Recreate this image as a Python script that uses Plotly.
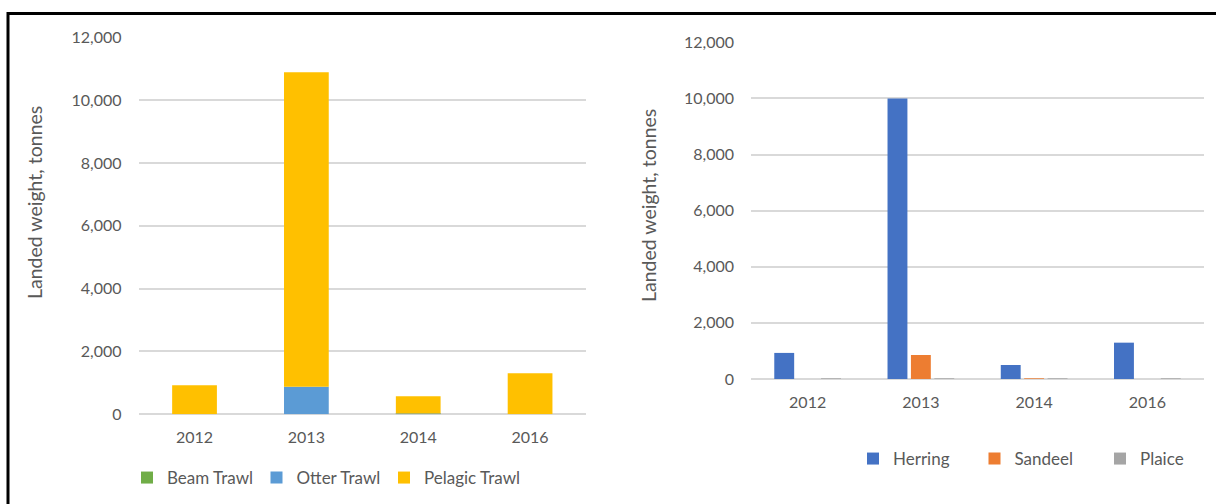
import plotly.graph_objects as go

years = ["2012", "2013", "2014", "2016"]

# Left chart: landed weight by gear (tonnes)
beam_trawl = [0, 0, 10, 0]
otter_trawl = [0, 880, 12, 0]
pelagic_trawl = [923, 10010, 551, 1305]

# Right chart: landed weight by species (tonnes)
herring = [930, 10000, 500, 1295]
sandeel = [0, 855, 15, 0]
plaice = [10, 15, 12, 10]

y_ticks = [0, 2000, 4000, 6000, 8000, 10000, 12000]

W, H = 1216, 504
FONT = "Lato"
TXT = "#595959"
GRID = "#D9D9D9"


def px_x(p):
    return p / W


def px_y(p):
    return 1 - p / H


axis_font = dict(family=FONT, size=16, color=TXT)
legend_font = dict(family=FONT, size=17, color=TXT)
title_font = dict(family=FONT, size=19.5, color=TXT)

fig = go.Figure()

left_series = [("Beam Trawl", beam_trawl, "#70AD47", "legend", 127),
               ("Otter Trawl", otter_trawl, "#5B9BD5", "legend2", 256.5),
               ("Pelagic Trawl", pelagic_trawl, "#FFC000", "legend3", 384)]
right_series = [("Herring", herring, "#4472C4", "legend4", 853),
                ("Sandeel", sandeel, "#ED7D31", "legend5", 974.5),
                ("Plaice", plaice, "#A5A5A5", "legend6", 1100)]

legends = {}
for name, vals, col, leg, lx in left_series:
    fig.add_trace(go.Bar(x=years, y=vals, name=name, marker_color=col,
                         marker_line_width=0, xaxis="x", yaxis="y",
                         width=0.4, legend=leg))
    legends[leg] = dict(orientation="h", x=px_x(lx), xanchor="left",
                        y=px_y(478), yanchor="middle", font=legend_font,
                        itemwidth=30, bgcolor="rgba(0,0,0,0)")

for name, vals, col, leg, lx in right_series:
    fig.add_trace(go.Bar(x=years, y=vals, name=name, marker_color=col,
                         marker_line_width=0, xaxis="x2", yaxis="y2",
                         offsetgroup=name, legend=leg))
    legends[leg] = dict(orientation="h", x=px_x(lx), xanchor="left",
                        y=px_y(459), yanchor="middle", font=legend_font,
                        itemwidth=30, bgcolor="rgba(0,0,0,0)")

fig.update_layout(
    width=W, height=H,
    margin=dict(l=0, r=0, t=0, b=0, autoexpand=False),
    paper_bgcolor="white", plot_bgcolor="white",
    barmode="relative",
    bargap=0.38, bargroupgap=0.15,
    font=dict(family=FONT, color=TXT),
    showlegend=True,
    xaxis=dict(domain=[px_x(138.6), px_x(586)], type="category",
               showgrid=False, showline=False, ticks="",
               tickfont=axis_font, ticklabelstandoff=12, automargin=False),
    yaxis=dict(domain=[px_y(414.3), px_y(37.3)], range=[0, 12000],
               tickvals=y_ticks, tickformat=",", showgrid=True,
               gridcolor=GRID, gridwidth=1.5, zeroline=True,
               zerolinecolor=GRID, zerolinewidth=1.5, showline=False,
               ticks="", tickfont=axis_font, ticklabelstandoff=16,
               automargin=False),
    xaxis2=dict(domain=[px_x(751), px_x(1204)], type="category",
                anchor="y2", showgrid=False, showline=False, ticks="",
                tickfont=axis_font, ticklabelstandoff=12, automargin=False),
    yaxis2=dict(domain=[px_y(379), px_y(42.3)], range=[0, 12000],
                anchor="x2", tickvals=y_ticks, tickformat=",",
                showgrid=True, gridcolor=GRID, gridwidth=1.5,
                zeroline=True, zerolinecolor=GRID, zerolinewidth=1.5,
                showline=False, ticks="", tickfont=axis_font,
                ticklabelstandoff=16, automargin=False),
    **legends,
)

fig.add_annotation(text="Landed weight, tonnes", xref="paper", yref="paper",
                   x=px_x(34), y=px_y(203), textangle=-90, showarrow=False,
                   font=title_font, xanchor="center", yanchor="middle")
fig.add_annotation(text="Landed weight, tonnes", xref="paper", yref="paper",
                   x=px_x(648), y=px_y(206), textangle=-90, showarrow=False,
                   font=title_font, xanchor="center", yanchor="middle")

# outer frame
fig.add_shape(type="rect", xref="paper", yref="paper",
              x0=px_x(8), x1=1.02, y0=-0.02, y1=px_y(13.5),
              line=dict(color="black", width=3), fillcolor="rgba(0,0,0,0)",
              layer="above")

fig.write_html(
    "out.html",
    config={"displayModeBar": False},
    post_script="document.body.style.margin='0';"
                "document.body.style.overflow='hidden';",
)
